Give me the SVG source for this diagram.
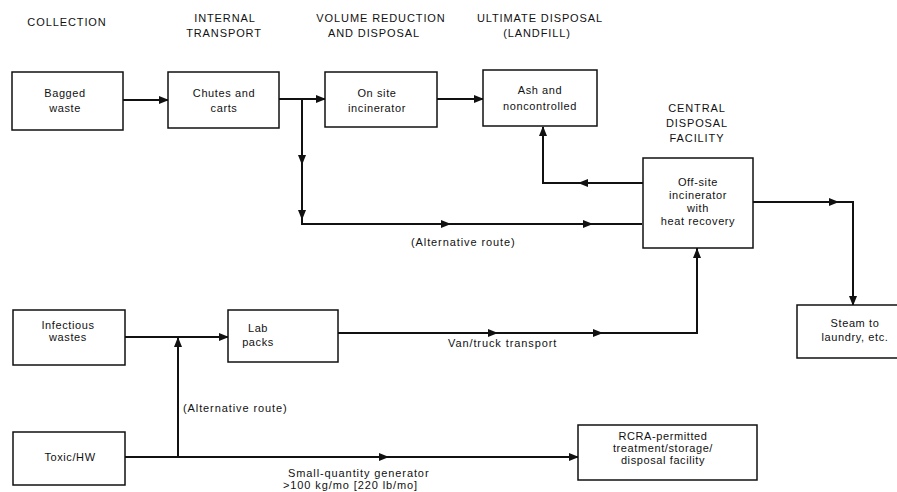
<svg xmlns="http://www.w3.org/2000/svg" width="897" height="492" viewBox="0 0 897 492">
<defs>
<style>
text{font-family:"Liberation Sans",Arial,sans-serif;fill:#111}
.h{font-size:11px;letter-spacing:0.9px;text-anchor:middle}
.n{font-size:11px;letter-spacing:0.6px;text-anchor:middle}
.l{font-size:11px;letter-spacing:0.9px}
.box{fill:#fff;stroke:#111;stroke-width:1.5}
.c{fill:none;stroke:#111;stroke-width:2}
.a{fill:none;stroke:#111;stroke-width:2;marker-end:url(#ah)}
</style>
<marker id="ah" markerUnits="userSpaceOnUse" markerWidth="10" markerHeight="8" refX="9" refY="4" orient="auto">
<path d="M0,0 L10,4 L0,8 z" fill="#111"/>
</marker>
</defs>
<rect width="897" height="492" fill="#fff"/>

<g id="headings">
<text class="h" x="67" y="26">COLLECTION</text>
<text class="h" x="225" y="22">INTERNAL</text>
<text class="h" x="224" y="37">TRANSPORT</text>
<text class="h" x="381" y="22">VOLUME REDUCTION</text>
<text class="h" x="374" y="37">AND DISPOSAL</text>
<text class="h" x="540" y="22">ULTIMATE DISPOSAL</text>
<text class="h" x="537" y="37">(LANDFILL)</text>
<text class="h" x="697" y="112">CENTRAL</text>
<text class="h" x="697" y="127">DISPOSAL</text>
<text class="h" x="697" y="142">FACILITY</text>
</g>

<g id="connectors">
<path class="a" d="M123,100 H168"/>
<path class="a" d="M279,99 H325"/>
<path class="a" d="M437,99 H483"/>
<path class="c" d="M302,99 V224 H642"/>
<path class="a" d="M302,140 V164"/>
<path class="a" d="M302,195 V219"/>
<path class="a" d="M420,224 H450"/>
<path class="a" d="M560,224 H592"/>
<path class="c" d="M643,183 H543 V128"/>
<path class="a" d="M610,183 H579"/>
<path class="a" d="M543,150 V127"/>
<path class="c" d="M753,202 H853 V305"/>
<path class="a" d="M810,202 H838"/>
<path class="a" d="M853,280 V305"/>
<path class="a" d="M125,337 H228"/>
<path class="c" d="M178,457 V338"/>
<path class="a" d="M178,370 V338"/>
<path class="c" d="M338,333 H697 V248"/>
<path class="a" d="M470,333 H497"/>
<path class="a" d="M575,333 H602"/>
<path class="a" d="M697,275 V249"/>
<path class="c" d="M125,457 H578"/>
<path class="a" d="M360,457 H388"/>
<path class="a" d="M550,457 H578"/>
</g>

<g id="labels">
<text class="l" x="411" y="246">(Alternative route)</text>
<text class="l" x="448" y="347">Van/truck transport</text>
<text class="l" x="183" y="412">(Alternative route)</text>
<text class="l" x="288" y="477">Small-quantity generator</text>
<text class="l" x="283" y="489">&gt;100 kg/mo [220 lb/mo]</text>
</g>

<g id="bagged">
<rect class="box" x="12" y="72" width="111" height="58"/>
<text class="n" x="65" y="97">Bagged</text>
<text class="n" x="65" y="112">waste</text>
</g>
<g id="chutes">
<rect class="box" x="168" y="72" width="111" height="56"/>
<text class="n" x="224" y="97">Chutes and</text>
<text class="n" x="224" y="112">carts</text>
</g>
<g id="onsite">
<rect class="box" x="325" y="72" width="112" height="55"/>
<text class="n" x="377" y="97">On site</text>
<text class="n" x="377" y="112">incinerator</text>
</g>
<g id="ash">
<rect class="box" x="483" y="70" width="114" height="56"/>
<text class="n" x="540" y="94">Ash and</text>
<text class="n" x="540" y="110">noncontrolled</text>
</g>
<g id="central">
<rect class="box" x="643" y="158" width="110" height="90"/>
<text class="n" x="698" y="186">Off-site</text>
<text class="n" x="698" y="199">incinerator</text>
<text class="n" x="698" y="212">with</text>
<text class="n" x="698" y="225">heat recovery</text>
</g>
<g id="steam">
<rect class="box" x="797" y="305" width="102" height="53"/>
<text class="n" x="855" y="327">Steam to</text>
<text class="n" x="855" y="341">laundry, etc.</text>
</g>
<g id="infectious">
<rect class="box" x="13" y="310" width="112" height="55"/>
<text class="n" x="68" y="329">Infectious</text>
<text class="n" x="68" y="341">wastes</text>
</g>
<g id="labpacks">
<rect class="box" x="228" y="310" width="110" height="52"/>
<text class="n" x="258" y="332">Lab</text>
<text class="n" x="258" y="346">packs</text>
</g>
<g id="toxic">
<rect class="box" x="13" y="432" width="112" height="53"/>
<text class="n" x="70" y="461">Toxic/HW</text>
</g>
<g id="rcra">
<rect class="box" x="578" y="425" width="179" height="55"/>
<text class="n" x="663" y="440">RCRA-permitted</text>
<text class="n" x="663" y="452">treatment/storage/</text>
<text class="n" x="663" y="464">disposal facility</text>
</g>
</svg>
